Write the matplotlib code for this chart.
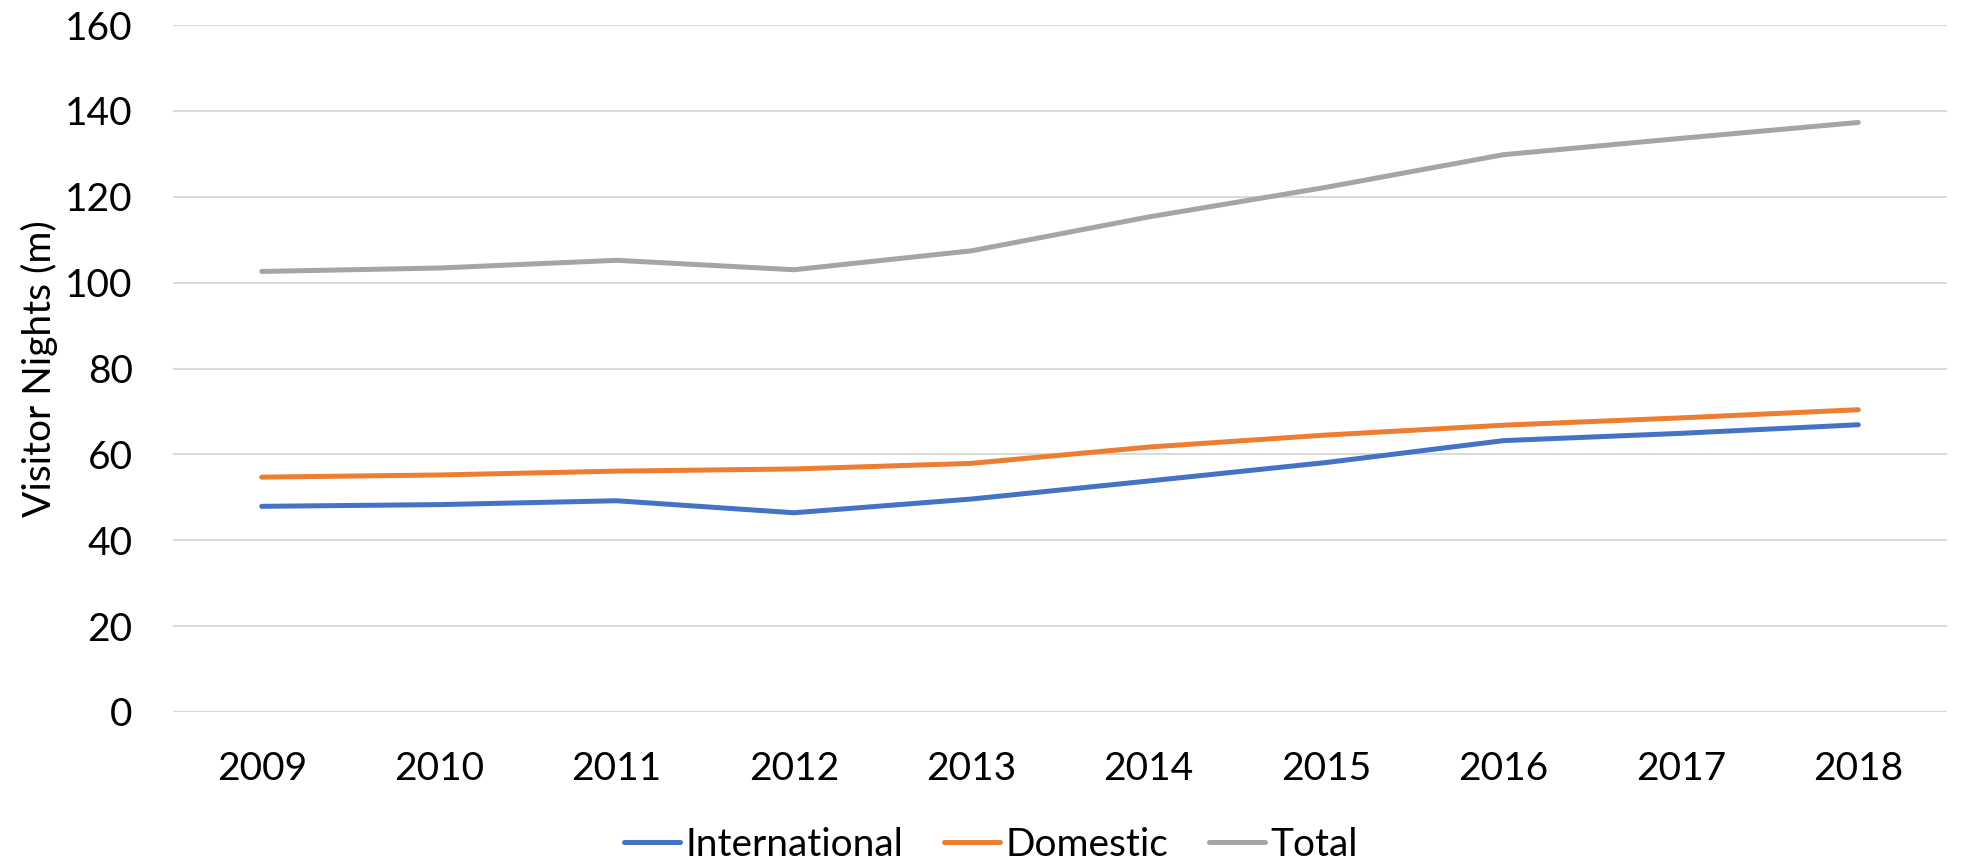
import matplotlib
matplotlib.use("Agg")
import matplotlib.pyplot as plt

years = ["2009", "2010", "2011", "2012", "2013", "2014", "2015", "2016", "2017", "2018"]
international = [47.9, 48.3, 49.2, 46.4, 49.6, 53.8, 58.1, 63.2, 64.9, 66.9]
domestic = [54.7, 55.2, 56.1, 56.6, 57.9, 61.7, 64.5, 66.8, 68.5, 70.4]
total = [102.6, 103.4, 105.2, 103.0, 107.4, 115.3, 122.2, 129.8, 133.6, 137.3]
yticks = [0, 20, 40, 60, 80, 100, 120, 140, 160]

plt.rcParams['font.family'] = ['Lato', 'DejaVu Sans']

W, H = 1982, 861
fig = plt.figure(figsize=(W / 100, H / 100), dpi=100)
left, right, top, bottom = 173, 1947, 25, 712
ax = fig.add_axes([left / W, 1 - bottom / H, (right - left) / W, (bottom - top) / H])

x = list(range(len(years)))
ax.plot(x, international, color="#4472C4", lw=3.6, label="International", solid_capstyle="round")
ax.plot(x, domestic, color="#ED7D31", lw=3.6, label="Domestic", solid_capstyle="round")
ax.plot(x, total, color="#A5A5A5", lw=3.6, label="Total", solid_capstyle="round")

ax.set_xlim(-0.5, len(years) - 0.5)
ax.set_ylim(0, 160)
ax.set_yticks(yticks)
ax.set_yticklabels([str(v) for v in yticks])
ax.set_xticks(x)
ax.set_xticklabels(years)
ax.yaxis.grid(True, color="#D9D9D9", lw=1.5)
ax.set_axisbelow(True)
for s in ax.spines.values():
    s.set_visible(False)
ax.tick_params(axis="both", length=0, labelsize=28, colors="black")
ax.tick_params(axis="y", pad=29)
ax.tick_params(axis="x", pad=28)
ax.set_ylabel("Visitor Nights (m)", fontsize=28, labelpad=5)

leg = fig.legend(loc="center", bbox_to_anchor=(0.5, 1 - 845 / H), ncol=3, frameon=False,
                 fontsize=28, handlelength=1.44, handletextpad=0.13, columnspacing=1.05)

fig.savefig("out.png", dpi=100, facecolor="white")
